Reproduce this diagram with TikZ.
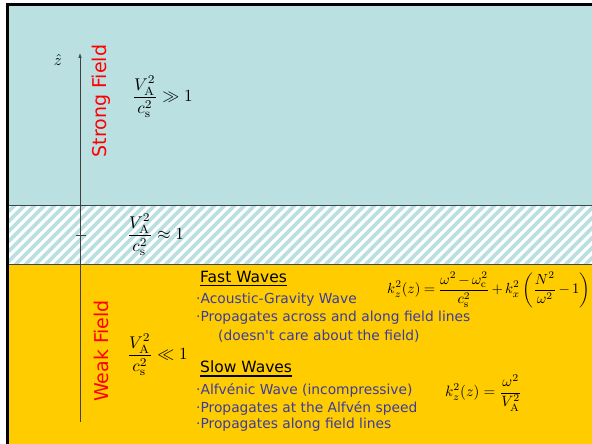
\documentclass[tikz,border=0pt]{standalone}
\usepackage{graphicx}
\usepackage{fontspec}
\usepackage{amsmath}
\usetikzlibrary{arrows.meta}
\newfontfamily\comic{DejaVu Sans}
\definecolor{skyb}{RGB}{186,224,226}
\definecolor{gold}{RGB}{255,204,0}
\definecolor{txtblue}{RGB}{60,60,158}
\definecolor{sepgray}{RGB}{60,70,80}
\newcommand{\ratiofrac}[1]{\scalebox{1.7}{$\displaystyle\frac{V_{\mathrm A}^2}{c_{\mathrm s}^2}#1 1$}}
\begin{document}
\begin{tikzpicture}[x=1pt,y=-1pt,
  sepline/.style={draw=sepgray,line width=0.8pt},
  axisline/.style={draw=black!75,line width=0.7pt},
  hatchline/.style={draw=skyb,line width=3.6pt},
  fieldlabel/.style={rotate=90,text=red,inner sep=0pt,font=\comic\fontsize{19}{20}\selectfont},
  ratio/.style={inner sep=0pt,anchor=west},
  heading/.style={inner sep=0pt,anchor=west,font=\comic\fontsize{15.5}{17}\selectfont},
  bullet/.style={inner sep=0pt,anchor=west,text=txtblue,font=\comic\fontsize{13.8}{16}\selectfont},
  eqn/.style={inner sep=0pt,anchor=west},
  uline/.style={draw=black,line width=1.7pt}]
\useasboundingbox (0,0) rectangle (592,444);
\clip (0,0) rectangle (592,444);
\fill[white] (0,0) rectangle (592,444);
% regions
\fill[skyb] (8,5) rectangle (592,205);
\fill[white] (8,205) rectangle (592,264);
\begin{scope}
  \clip (8,205) rectangle (592,264);
  \foreach \i in {-70,-60,...,600} \draw[hatchline] (\i,270) -- ++(72,-72);
\end{scope}
\fill[gold] (8,264) rectangle (592,444);
\draw[sepline] (8,205) -- (592,205);
\draw[sepline] (8,264) -- (592,264);
\draw[line width=3pt] (7.5,444) -- (7.5,4.5) -- (592,4.5);
% axis
\coordinate (zb) at (80,422);
\coordinate (zt) at (80,53);
\draw[axisline,-{Latex[length=5pt,width=3.5pt]}] (zb) -- (zt);
\coordinate (t1) at (76,235);
\coordinate (t2) at (86,235);
\draw[axisline] (t1) -- (t2);
\node[inner sep=0pt] (zhat) at (58,60) {\scalebox{1.6}{$\hat z$}};
% field labels
\node[fieldlabel] (strong) at (101,101) {Strong Field};
\node[fieldlabel] (weak) at (101,351) {Weak Field};
% ratios
\node[ratio] (r1) at (132,97) {\ratiofrac{\gg}};
\node[ratio] (r2) at (127,235) {\ratiofrac{\approx}};
\node[ratio] (r3) at (127,355) {\ratiofrac{\ll}};
% fast waves
\node[heading] (fast) at (200,277) {Fast Waves};
\draw[uline] ([yshift=-3pt]fast.base west) -- ([yshift=-3pt]fast.base east);
\node[bullet] (f1) at (196,300) {·Acoustic-Gravity Wave};
\node[bullet] (f2) at (196,318) {·Propagates across and along field lines};
\node[bullet] (f3) at (218,336) {(doesn't care about the field)};
\node[eqn] (eq1) at (387,290) {\scalebox{1.46}{\medmuskip=2.5mu\thickmuskip=4mu$\displaystyle k_z^2(z)=\frac{\omega^2-\omega_{\mathrm c}^2}{c_{\mathrm s}^2}+k_x^2\left(\frac{N^2}{\omega^2}-1\right)$}};
% slow waves
\node[heading] (slow) at (200,367) {Slow Waves};
\draw[uline] ([yshift=-3pt]slow.base west) -- ([yshift=-3pt]slow.base east);
\node[bullet] (s1) at (196,390) {·Alfvénic Wave (incompressive)};
\node[bullet] (s2) at (196,408) {·Propagates at the Alfvén speed};
\node[bullet] (s3) at (196,425) {·Propagates along field lines};
\node[eqn] (eq2) at (445,393) {\scalebox{1.5}{$\displaystyle k_z^2(z)=\frac{\omega^2}{V_{\mathrm A}^2}$}};
\end{tikzpicture}
\end{document}
